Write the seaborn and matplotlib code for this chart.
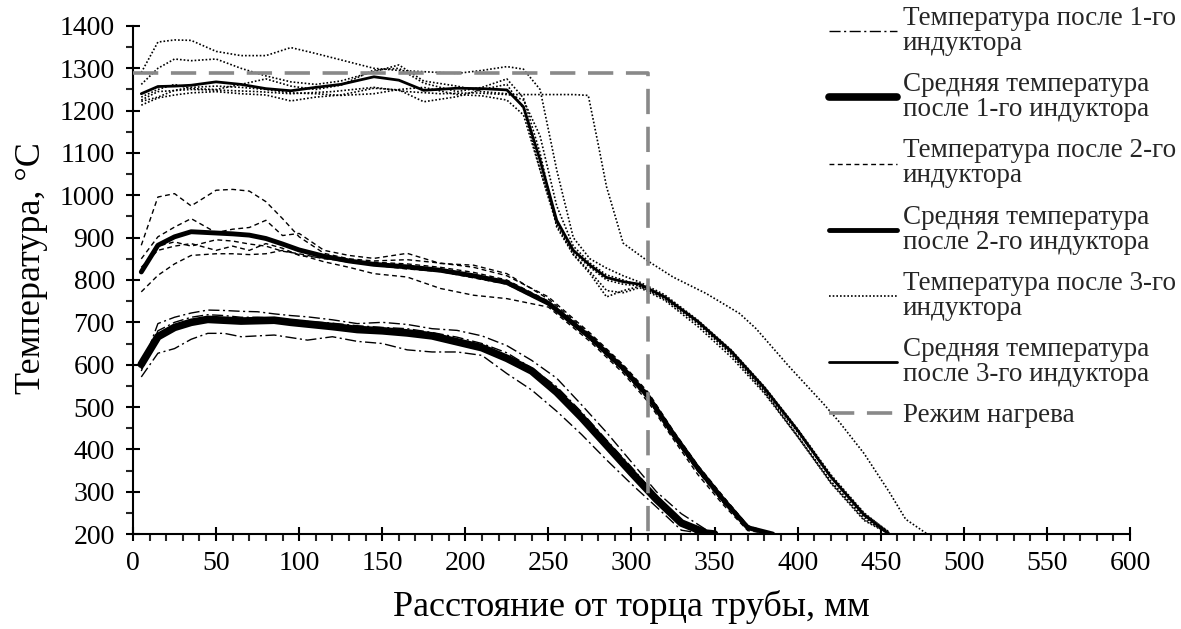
import matplotlib
matplotlib.use("Agg")
import matplotlib.pyplot as plt
import seaborn as sns
import numpy as np

# --- data ---
# 1st inductor (mm, degC)
x1 = [5, 15, 25, 35, 45, 55, 65, 75, 85, 95, 105, 120, 135, 150, 165, 180, 195, 210, 225, 240, 255, 270, 285, 300, 315, 330, 345, 350]
mean1 = [601, 666, 688, 700, 707, 705, 703, 704, 705, 700, 696, 690, 683, 680, 675, 668, 654, 640, 615, 585, 535, 475, 410, 345, 282, 226, 202, 200]
t1_a = [590, 697, 712, 722, 729, 728, 726, 725, 720, 716, 713, 706, 697, 700, 695, 685, 681, 668, 645, 610, 568, 505, 440, 370, 300, 248, 210, 200]
t1_b = [571, 627, 638, 660, 674, 674, 666, 668, 670, 664, 658, 666, 655, 650, 635, 630, 630, 622, 579, 540, 490, 435, 375, 318, 264, 209, 200, 200]
t1_c = [585, 680, 700, 712, 718, 716, 712, 712, 710, 706, 702, 698, 692, 688, 685, 676, 665, 650, 628, 592, 548, 488, 422, 358, 290, 232, 205, 200]

# 2nd inductor
x2 = [5, 15, 25, 35, 50, 60, 70, 80, 90, 100, 115, 130, 145, 165, 185, 205, 225, 250, 275, 295, 310, 325, 340, 355, 370, 385]
mean2 = [819, 882, 902, 914, 911, 909, 906, 898, 885, 871, 856, 845, 837, 831, 823, 810, 794, 745, 665, 591, 525, 437, 355, 282, 215, 200]
t2_a = [882, 996, 1004, 975, 1012, 1014, 1010, 985, 945, 902, 863, 850, 845, 848, 840, 830, 810, 760, 675, 600, 535, 445, 362, 290, 220, 200]
t2_b = [850, 902, 925, 945, 912, 920, 924, 941, 905, 910, 870, 858, 851, 863, 839, 835, 815, 755, 672, 598, 532, 442, 360, 288, 218, 200]
t2_c = [830, 870, 880, 886, 870, 880, 870, 886, 875, 858, 852, 842, 835, 826, 820, 805, 790, 742, 660, 585, 518, 430, 348, 275, 212, 200]
t2_d = [772, 811, 838, 858, 862, 862, 860, 862, 870, 860, 843, 830, 815, 807, 780, 764, 756, 736, 655, 580, 512, 425, 340, 270, 208, 200]
t2_e = [820, 880, 890, 880, 895, 892, 885, 880, 868, 862, 850, 845, 842, 838, 830, 818, 800, 750, 668, 594, 528, 440, 358, 285, 216, 200]

# 3rd inductor
x3 = [5, 15, 25, 35, 50, 65, 80, 95, 110, 125, 145, 160, 175, 195, 210, 225, 235, 245, 255, 265, 275, 285, 295, 305, 320, 340, 360, 380, 400, 420, 440, 455]
mean3 = [1240, 1257, 1258, 1260, 1268, 1262, 1252, 1247, 1255, 1262, 1280, 1272, 1248, 1253, 1252, 1249, 1209, 1083, 941, 870, 835, 806, 796, 790, 760, 702, 632, 545, 445, 335, 245, 200]
t3_a = [1290, 1362, 1367, 1366, 1340, 1330, 1330, 1349, 1335, 1320, 1300, 1295, 1292, 1288, 1295, 1304, 1298, 1250, 1060, 900, 850, 828, 810, 795, 765, 705, 635, 548, 448, 340, 250, 203]
t3_b = [1262, 1300, 1322, 1318, 1322, 1300, 1282, 1268, 1262, 1270, 1292, 1308, 1270, 1258, 1245, 1240, 1225, 1140, 975, 880, 840, 812, 800, 786, 755, 696, 625, 538, 430, 322, 235, 200]
t3_c = [1232, 1250, 1262, 1252, 1250, 1262, 1275, 1258, 1250, 1260, 1296, 1300, 1265, 1245, 1255, 1275, 1230, 1100, 925, 860, 815, 760, 775, 785, 758, 700, 628, 540, 440, 335, 248, 205]
t3_d = [1213, 1230, 1237, 1242, 1245, 1240, 1237, 1223, 1232, 1237, 1253, 1249, 1221, 1233, 1250, 1262, 1205, 1060, 930, 860, 820, 775, 770, 782, 752, 690, 618, 532, 430, 320, 232, 200]
t3_e = [1222, 1232, 1248, 1255, 1258, 1255, 1250, 1242, 1240, 1236, 1240, 1250, 1255, 1238, 1235, 1225, 1190, 1060, 935, 865, 830, 800, 790, 786, 758, 698, 625, 535, 432, 325, 240, 200]
x3_late = [5, 15, 35, 55, 75, 95, 120, 145, 165, 185, 205, 225, 245, 265, 274, 280, 285, 295, 309, 325, 345, 365, 375, 395, 415, 425, 440, 455, 465, 478]
t3_late = [1225, 1245, 1250, 1248, 1245, 1240, 1245, 1255, 1245, 1240, 1242, 1238, 1238, 1238, 1236, 1120, 1020, 887, 847, 807, 768, 721, 685, 595, 510, 465, 390, 300, 235, 200]

# heating mode
regime_x = [0, 310, 310]
regime_t = [1290, 1290, 200]

labels = ["Температура после 1-го\nиндуктора",
          "Средняя температура\nпосле 1-го индуктора",
          "Температура после 2-го\nиндуктора",
          "Средняя температура\nпосле 2-го индуктора",
          "Температура после 3-го\nиндуктора",
          "Средняя температура\nпосле 3-го индуктора",
          "Режим нагрева"]

sns.set_theme(style="ticks")
plt.rcParams["font.family"] = ["Liberation Serif", "DejaVu Serif"]

fig = plt.figure(figsize=(11.81, 6.29), dpi=100)
ax = fig.add_axes([0.1126, 0.151, 0.8442, 0.8077])

dashdot = (0, (8, 2.5, 1.5, 2.5))
dashed = (0, (3.5, 2.5))
dotted = (0, (1, 1.2))

for i, t in enumerate([t1_a, t1_b, t1_c]):
    sns.lineplot(x=x1, y=t, ax=ax, color="black", lw=1, linestyle=dashdot,
                 label=labels[0] if i == 0 else None, errorbar=None)
sns.lineplot(x=x1, y=mean1, ax=ax, color="black", lw=5.5, label=labels[1],
             errorbar=None, solid_capstyle="round")

for i, t in enumerate([t2_a, t2_b, t2_c, t2_d, t2_e]):
    sns.lineplot(x=x2, y=t, ax=ax, color="black", lw=1, linestyle=dashed,
                 label=labels[2] if i == 0 else None, errorbar=None)
sns.lineplot(x=x2, y=mean2, ax=ax, color="black", lw=3.5, label=labels[3],
             errorbar=None, solid_capstyle="round")

for i, t in enumerate([t3_a, t3_b, t3_c, t3_d, t3_e]):
    sns.lineplot(x=x3, y=t, ax=ax, color="black", lw=1.2, linestyle=dotted,
                 label=labels[4] if i == 0 else None, errorbar=None)
sns.lineplot(x=x3_late, y=t3_late, ax=ax, color="black", lw=1.2, linestyle=dotted,
             errorbar=None)
sns.lineplot(x=x3, y=mean3, ax=ax, color="black", lw=2, label=labels[5],
             errorbar=None)

ax.plot(regime_x, regime_t, color="#898989", lw=2.6, linestyle=(0, (7, 3.5)),
        label=labels[6], zorder=10)

ax.set_xlim(0, 600)
ax.set_ylim(200, 1400)
ax.set_xticks(np.arange(0, 601, 50))
ax.set_yticks(np.arange(200, 1401, 100))
ax.set_xticks(np.arange(0, 601, 10), minor=True)
ax.set_yticks(np.arange(200, 1401, 50), minor=True)
ax.tick_params(axis="both", which="major", direction="inout", length=10, width=1.5,
               labelsize=20, colors="black")
ax.tick_params(axis="y", which="major", pad=8)
ax.tick_params(axis="x", which="major", pad=7)
ax.tick_params(axis="both", which="minor", direction="out", length=5, width=1.5)

sns.despine(ax=ax)
for s in ["left", "bottom"]:
    ax.spines[s].set_linewidth(1.5)
    ax.spines[s].set_color("black")

ax.set_xlabel("Расстояние от торца трубы, мм", fontsize=26, color="black", labelpad=10)
ax.set_ylabel("Температура, °С", fontsize=26, color="black", labelpad=3)
ax.yaxis.set_label_coords(-0.085, 0.524)

handles, labs = ax.get_legend_handles_labels()
order = [labs.index(l) for l in labels]
ax.get_legend().remove()
leg = fig.legend([handles[i] for i in order], labels, loc="upper right",
                 bbox_to_anchor=(1.007, 1.012), frameon=False, fontsize=19.5,
                 handlelength=2.5, handletextpad=0.2, labelspacing=0.6,
                 borderaxespad=0.1)
for t in leg.get_texts():
    t.set_linespacing(1.0)

fig.savefig("out.png", dpi=100, facecolor="white")
